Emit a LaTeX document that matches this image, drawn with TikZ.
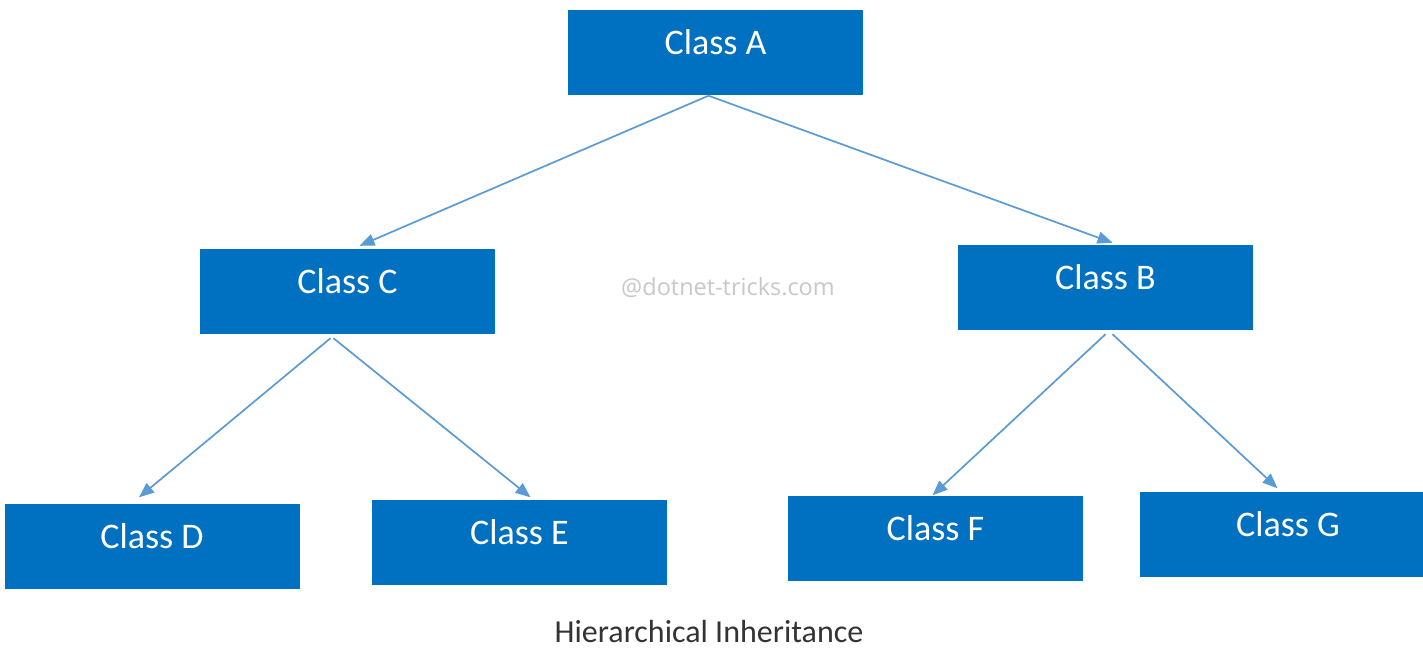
\documentclass[tikz,border=0pt]{standalone}
\usepackage{fontspec}
\setmainfont{Carlito}
\newfontfamily\wmfont{Open Sans}
\usetikzlibrary{arrows.meta,calc}
\definecolor{boxblue}{HTML}{0070C0}
\definecolor{arrblue}{HTML}{5B9BD5}
\definecolor{wmgray}{HTML}{C8C8C8}
\definecolor{capgray}{HTML}{333333}
\tikzset{
  classbox/.style={draw=none,fill=boxblue,minimum width=295pt,minimum height=85pt,inner sep=0pt},
  classtxt/.style={text=white,font=\fontsize{36}{40}\selectfont,inner sep=0pt},
  arr/.style={draw=arrblue,line width=1.7pt,-{Triangle[length=15pt,width=12pt]}}
}
\begin{document}
\begin{tikzpicture}[x=1pt,y=-1pt]
\useasboundingbox[fill=white] (0,0) rectangle (1423,649);
\clip (0,0) rectangle (1423,649);
\node[classbox] (A) at (715.5,52) {};
\node[classbox] (C) at (347.5,291.5) {};
\node[classbox] (B) at (1105.5,287.5) {};
\node[classbox] (D) at (152,546) {};
\node[classbox] (E) at (519.5,542) {};
\node[classbox] (F) at (935.5,538) {};
\node[classbox] (G) at (1287.5,534) {};
\node[classtxt] (tA) at ($(A)+(0,-10)$) {Class A};
\node[classtxt] (tC) at ($(C)+(0,-10)$) {Class C};
\node[classtxt] (tB) at ($(B)+(0,-10)$) {Class B};
\node[classtxt] (tD) at ($(D)+(0,-10)$) {Class D};
\node[classtxt] (tE) at ($(E)+(0,-10)$) {Class E};
\node[classtxt] (tF) at ($(F)+(0,-10)$) {Class F};
\node[classtxt] (tG) at ($(G)+(0.5,-10)$) {Class G};
% connector end points
\coordinate (As) at ($(A.south)+(-7,1)$);
\coordinate (Cn) at ($(C.north)+(12,-3)$);
\coordinate (Bn) at ($(B.north)+(7,-2)$);
\coordinate (Cs) at ($(C.south)+(-17,4)$);
\coordinate (Cs2) at ($(C.south)+(-14,4)$);
\coordinate (Dn) at ($(D.north)+(-13,-6)$);
\coordinate (En) at ($(E.north)+(11,-2)$);
\coordinate (Bs) at ($(B.south)+(0,4)$);
\coordinate (Bs2) at ($(B.south)+(7,4)$);
\coordinate (Fn) at ($(F.north)+(-3,0)$);
\coordinate (Gn) at ($(G.north)+(-10,-3)$);
\draw[arr] (As) -- (Cn);
\draw[arr] (As) -- (Bn);
\draw[arr] (Cs) -- (Dn);
\draw[arr] (Cs2) -- (En);
\draw[arr] (Bs) -- (Fn);
\draw[arr] (Bs2) -- (Gn);
\node[text=wmgray,font=\wmfont\fontsize{23.5}{26}\selectfont,inner sep=0pt] (wm) at (728,288) {@dotnet-tricks.com};
\node[text=capgray,font=\fontsize{32}{35}\selectfont,inner sep=0pt] (cap) at (709,631) {Hierarchical Inheritance};
\end{tikzpicture}
\end{document}
